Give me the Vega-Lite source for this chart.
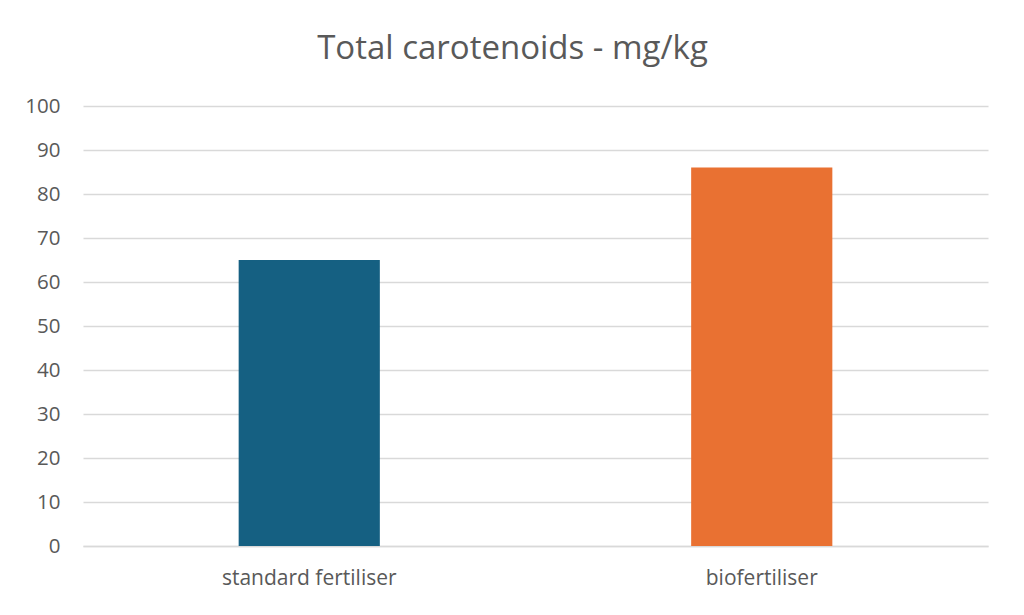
{
  "$schema": "https://vega.github.io/schema/vega-lite/v6.json",
  "width": 905,
  "height": 440,
  "autosize": "none",
  "padding": {"left": 83, "top": 106, "right": 36, "bottom": 69},
  "background": "white",
  "title": {
    "text": "Total carotenoids - mg/kg",
    "font": "Open Sans",
    "fontSize": 33,
    "fontWeight": "normal",
    "color": "#595959",
    "anchor": "middle",
    "dx": -23,
    "offset": 30
  },
  "data": {
    "values": [
      {"category": "standard fertiliser", "value": 65},
      {"category": "biofertiliser", "value": 86}
    ]
  },
  "mark": {"type": "bar"},
  "encoding": {
    "x": {
      "field": "category",
      "type": "nominal",
      "sort": null,
      "scale": {"paddingInner": 0.688, "paddingOuter": 0.344},
      "axis": {
        "title": null,
        "labelAngle": 0,
        "labelFont": "Open Sans",
        "labelFontSize": 21,
        "labelColor": "#595959",
        "labelPadding": 21,
        "ticks": false,
        "domainColor": "#d9d9d9",
        "domainWidth": 1.5
      }
    },
    "y": {
      "field": "value",
      "type": "quantitative",
      "scale": {"domain": [0, 100]},
      "axis": {
        "title": null,
        "values": [0, 10, 20, 30, 40, 50, 60, 70, 80, 90, 100],
        "labelFont": "Open Sans",
        "labelFontSize": 20.5,
        "labelColor": "#595959",
        "labelPadding": 23,
        "ticks": false,
        "domain": false,
        "gridColor": "#d9d9d9",
        "gridWidth": 1.5
      }
    },
    "color": {
      "field": "category",
      "type": "nominal",
      "scale": {"domain": ["standard fertiliser", "biofertiliser"], "range": ["#156082", "#E97132"]},
      "legend": null
    }
  },
  "config": {"view": {"stroke": null}}
}
